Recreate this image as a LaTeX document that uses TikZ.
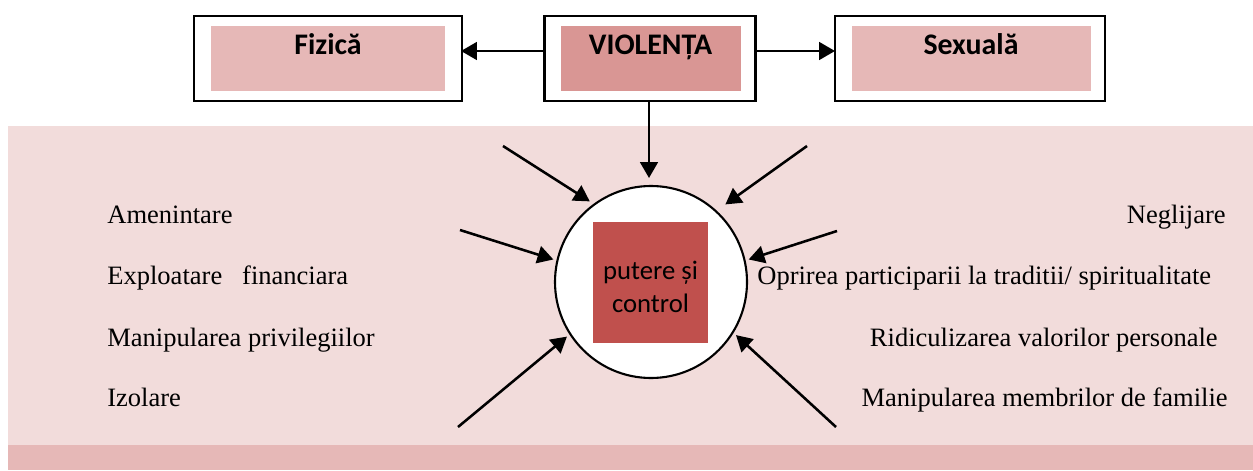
\documentclass[tikz,border=0pt]{standalone}
\usepackage{fontspec}
\setmainfont{Liberation Serif}
\newfontfamily\boxfont{Carlito}
\usetikzlibrary{arrows.meta}
\definecolor{panelpink}{HTML}{F2DCDB}
\definecolor{strippink}{HTML}{E6B8B7}
\definecolor{violpink}{HTML}{D99694}
\definecolor{ctlred}{HTML}{C0504D}
\def\px{0.02cm}
\tikzset{
  outerbox/.style={draw,line width=1.2pt,fill=white,inner sep=0pt,minimum height=85*\px},
  innerbox/.style={inner sep=0pt,outer sep=0pt,minimum height=65*\px},
  boxlabel/.style={anchor=base,inner sep=0pt,font=\boxfont\bfseries\fontsize{17}{20}\selectfont},
  itemtext/.style={inner sep=0pt,font=\fontsize{15.1}{18}\selectfont},
  arr/.style={line width=1.45pt,-{Triangle[length=9pt,width=10pt]}},
}
\begin{document}
\begin{tikzpicture}[x=0.02cm,y=-0.02cm]
\useasboundingbox (0,0) rectangle (1253,470);
\fill[panelpink] (8,126) rectangle (1253,445);
\fill[strippink] (8,445) rectangle (1253,470);
% top row
\node[outerbox,minimum width=268*\px] (fizica) at (328,58.5) {};
\node[outerbox,minimum width=211*\px] (violenta) at (650,58.5) {};
\node[outerbox,minimum width=270*\px] (sexuala) at (970,58.5) {};
\node[innerbox,fill=strippink,minimum width=234*\px] (fizicain) at (328,58.5) {};
\node[innerbox,fill=violpink,minimum width=180*\px] (violentain) at (651,58.5) {};
\node[innerbox,fill=strippink,minimum width=239*\px] (sexualain) at (971.5,58.5) {};
\node[boxlabel] (fizicatxt) at (328,54) {Fizică};
\node[boxlabel] (violentatxt) at (650.5,54) {VIOLENȚA};
\node[boxlabel] (sexualatxt) at (971,54) {Sexuală};
% centre
\node[circle,draw,line width=1.2pt,fill=white,minimum size=192*\px,inner sep=0pt,outer sep=2.4pt] (centru) at (651,282) {};
\node[inner sep=0pt,outer sep=0pt,fill=ctlred,minimum width=115*\px,minimum height=121*\px] (putere) at (650.5,282.5) {};
\node[anchor=base,inner sep=0pt,align=center,font=\boxfont\fontsize{15.2}{18.4}\selectfont] (puteretxt) at (650.5,312) {putere și\\control};
% arrows
\coordinate (fizicaend) at (461,51);
\coordinate (sexualaend) at (835,51);
\draw[arr] (violenta.west |- fizicaend) -- (fizicaend);
\draw[arr] (violenta.east |- sexualaend) -- (sexualaend);
\coordinate (a1) at (503,146);
\coordinate (a2) at (807,146);
\coordinate (a3) at (460,230);
\coordinate (a4) at (837,231);
\coordinate (a5) at (458,427);
\coordinate (a6) at (836,427);
\coordinate (a7) at (649,178);
\draw[arr] (violenta.south -| a7) -- (a7);
\draw[arr,shorten >=0.6pt] (a1) -- (centru.127.4);
\draw[arr,shorten >=4.2pt] (a2) -- (centru.47.6);
\draw[arr] (a3) -- (centru.167);
\draw[arr] (a4) -- (centru.13.5);
\draw[arr] (a5) -- (centru.213.5);
\draw[arr] (a6) -- (centru.-32);
% left labels
\node[itemtext,anchor=base west] (amen) at (107,223) {Amenintare};
\node[itemtext,anchor=base west] (expl) at (107,284) {Exploatare\ \ \ financiara};
\node[itemtext,anchor=base west] (priv) at (107,346) {Manipularea privilegiilor};
\node[itemtext,anchor=base west] (izol) at (107,406) {Izolare};
% right labels
\node[itemtext,anchor=base east] (negl) at (1226,223) {Neglijare};
\node[itemtext,anchor=base west] (opri) at (757,284) {Oprirea participarii la traditii/ spiritualitate};
\node[itemtext,anchor=base east] (ridi) at (1218,346) {Ridiculizarea valorilor personale};
\node[itemtext,anchor=base east] (memb) at (1228,406) {Manipularea membrilor de familie};
\end{tikzpicture}
\end{document}
